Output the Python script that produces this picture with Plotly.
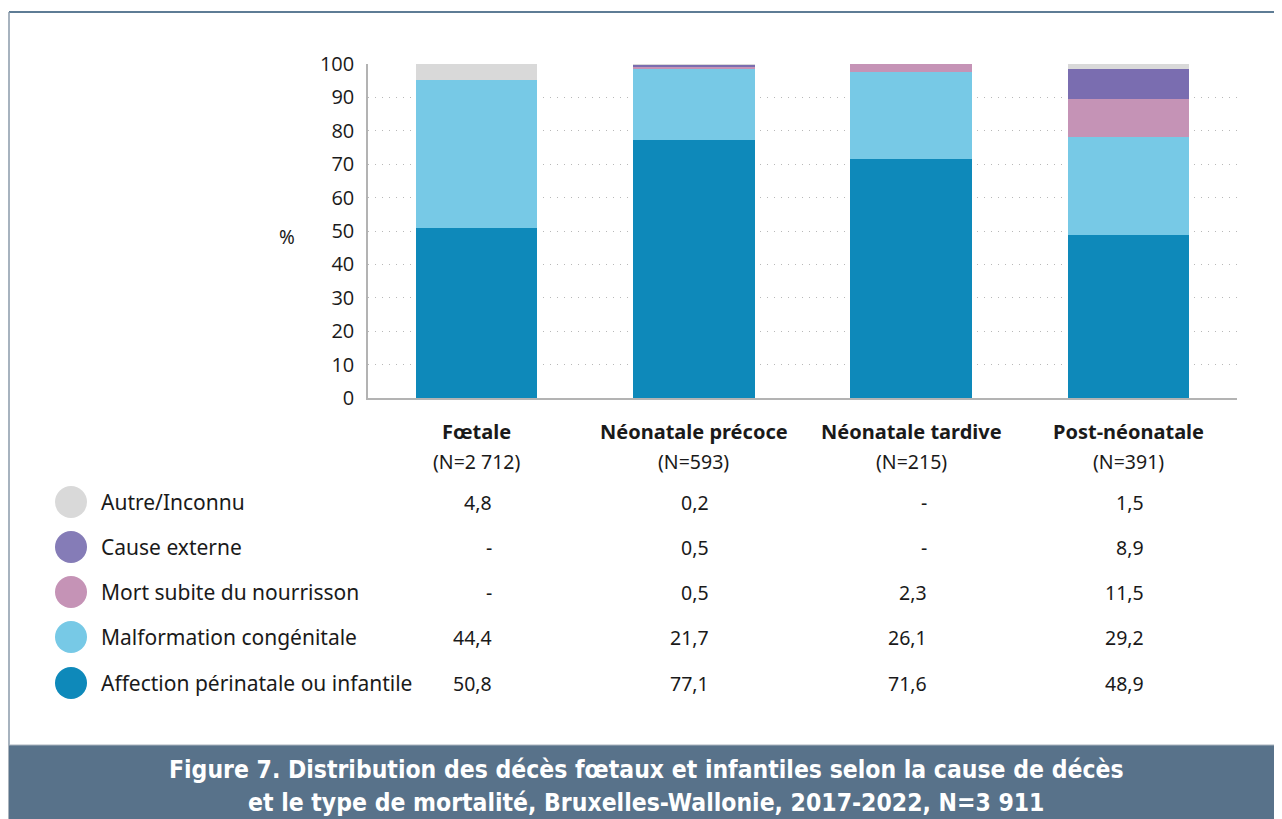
import plotly.graph_objects as go

# ---------------- data ----------------
categories = ["Fœtale", "Néonatale précoce", "Néonatale tardive", "Post-néonatale"]
cat_n = ["(N=2 712)", "(N=593)", "(N=215)", "(N=391)"]

causes = ["Affection périnatale ou infantile", "Malformation congénitale",
          "Mort subite du nourrisson", "Cause externe", "Autre/Inconnu"]
affection = [50.8, 77.1, 71.6, 48.9]
malformation = [44.4, 21.7, 26.1, 29.2]
mort_subite = [None, 0.5, 2.3, 11.5]
cause_externe = [None, 0.5, None, 8.9]
autre = [4.8, 0.2, None, 1.5]
series = [affection, malformation, mort_subite, cause_externe, autre]

y_ticks = [0, 10, 20, 30, 40, 50, 60, 70, 80, 90, 100]
title_lines = ["Figure 7. Distribution des décès fœtaux et infantiles selon la cause de décès",
               "et le type de mortalité, Bruxelles-Wallonie, 2017-2022, N=3 911"]

# ---------------- styles ----------------
bar_colors = ["#0e89ba", "#77c9e6", "#c593b6", "#7a6db0", "#d9d9d9"]
legend_colors = ["#0e89ba", "#77c9e6", "#c593b6", "#857cb7", "#d9d9d9"]
FONT = "Noto Sans"
TXT = "#1a1a1a"

OFF = 8  # page body margin
W, H = 1282 - OFF, 819 - OFF
L, R, T, B = 368 - OFF, 45, 64 - OFF, 421
PW = W - L - R
PH = H - T - B


def px(xp):
    return (xp - OFF - L) / PW


def py(yp):
    return (H - B - (yp - OFF)) / PH


fig = go.Figure()
x_idx = list(range(len(categories)))
for name, vals, col in zip(causes, series, bar_colors):
    fig.add_trace(go.Bar(
        x=x_idx, y=[v if v is not None else 0 for v in vals],
        name=name, marker=dict(color=col, line=dict(width=0)),
        width=0.56, showlegend=False, hoverinfo="skip"))

annotations = []
shapes = []

# category labels
for i, (c, n) in enumerate(zip(categories, cat_n)):
    annotations.append(dict(x=i, y=py(431), xref="x", yref="paper", text="<b>" + c + "</b>",
                            showarrow=False, xanchor="center", yanchor="middle",
                            font=dict(family=FONT, size=20, color=TXT)))
    annotations.append(dict(x=i, y=py(461), xref="x", yref="paper", text=n,
                            showarrow=False, xanchor="center", yanchor="middle",
                            font=dict(family=FONT, size=19.5, color=TXT)))

# table rows (top row = last cause)
row_y = [683, 637, 592, 547, 502]
for name, vals, col, ry in zip(causes, series, legend_colors, row_y):
    shapes.append(dict(type="circle", xref="paper", yref="paper",
                       xsizemode="pixel", ysizemode="pixel",
                       xanchor=px(71), yanchor=py(ry),
                       x0=-16, x1=16, y0=-16, y1=16,
                       fillcolor=col, line=dict(width=0)))
    annotations.append(dict(x=px(99), y=py(ry), xref="paper", yref="paper", text=name,
                            showarrow=False, xanchor="left", yanchor="middle",
                            font=dict(family=FONT, size=21, color=TXT)))
    for i, v in enumerate(vals):
        txt = "-" if v is None else f"{v:.1f}".replace(".", ",")
        annotations.append(dict(x=i + 0.08, y=py(ry), xref="x", yref="paper", text=txt,
                                showarrow=False, xanchor="right", yanchor="middle",
                                font=dict(family=FONT, size=19.5, color=TXT)))

# % label
annotations.append(dict(x=px(287), y=py(237), xref="paper", yref="paper", text="%",
                        showarrow=False, xanchor="center", yanchor="middle",
                        font=dict(family=FONT, size=19, color=TXT)))

# frame
shapes.append(dict(type="line", xref="paper", yref="paper", x0=px(9), x1=px(1300),
                   y0=py(12), y1=py(12), line=dict(color="#5e7c95", width=2)))
shapes.append(dict(type="line", xref="paper", yref="paper", x0=px(9), x1=px(9),
                   y0=py(12), y1=py(745), line=dict(color="#8a9aaa", width=1.5)))
shapes.append(dict(type="rect", xref="paper", yref="paper", x0=px(8.5), x1=px(1300),
                   y0=py(745), y1=py(840), fillcolor="#58728a",
                   line=dict(color="#a9b3bd", width=1)))

# title
for line, ty in zip(title_lines, [770, 802]):
    annotations.append(dict(x=px(646), y=py(ty), xref="paper", yref="paper",
                            text="<b>" + line + "</b>", showarrow=False,
                            xanchor="center", yanchor="middle",
                            font=dict(family="DejaVu Sans Condensed", size=24.5, color="white")))

fig.update_layout(
    width=W, height=H,
    margin=dict(l=L, r=R, t=T, b=B, pad=0),
    barmode="stack",
    plot_bgcolor="white", paper_bgcolor="white",
    font=dict(family=FONT, size=18, color=TXT),
    xaxis=dict(range=[-0.5, 3.5], showticklabels=False, ticks="", showgrid=False,
               showline=True, linecolor="#b3b3b3", linewidth=1.5, zeroline=False, fixedrange=True),
    yaxis=dict(range=[0, 100], tickvals=y_ticks, ticks="", showline=True,
               linecolor="#b3b3b3", linewidth=1.5, showgrid=True, gridcolor="#b8b8b8",
               griddash="1px,6px", gridwidth=1.2, zeroline=False, ticklabelstandoff=8,
               tickfont=dict(family="Open Sans", size=20, color=TXT), fixedrange=True),
    annotations=annotations,
    shapes=shapes,
    bargap=0.44,
)

fig.write_html("out.html")
